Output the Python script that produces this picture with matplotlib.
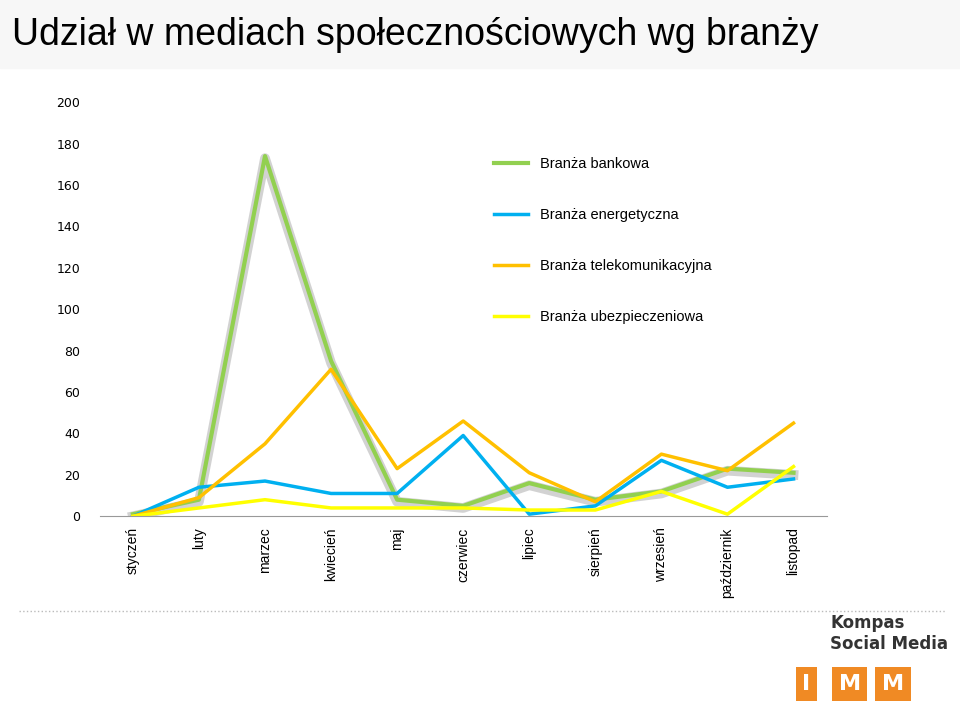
import matplotlib
matplotlib.use("Agg")
import matplotlib.pyplot as plt
import matplotlib.patheffects as pe

months = ["styczeń","luty","marzec","kwiecień","maj","czerwiec","lipiec","sierpień","wrzesień","październik","listopad"]
bankowa = [1, 8, 174, 75, 8, 5, 16, 8, 12, 23, 21]
energetyczna = [0, 14, 17, 11, 11, 39, 1, 5, 27, 14, 18]
telekom = [0, 9, 35, 71, 23, 46, 21, 7, 30, 22, 45]
ubezp = [0, 4, 8, 4, 4, 4, 3, 3, 12, 1, 24]
yticks = [0, 20, 40, 60, 80, 100, 120, 140, 160, 180, 200]

fig = plt.figure(figsize=(9.6, 7.2), dpi=100)
fig.patches.append(plt.Rectangle((0, 0.905), 1, 0.095, transform=fig.transFigure, color="#f7f7f7", zorder=0))
fig.text(0.012, 0.952, "Udział w mediach społecznościowych wg branży", fontsize=27, va="center", family="Liberation Sans")

ax = fig.add_axes([0.104, 0.283, 0.757, 0.575])
x = range(len(months))
ax.plot(x, bankowa, color="#92d050", lw=3, label="Branża bankowa",
        path_effects=[pe.SimpleLineShadow(offset=(0, -1.5), shadow_color="gray", alpha=0.35, linewidth=7), pe.Normal()])
ax.plot(x, energetyczna, color="#00b0f0", lw=2.5, label="Branża energetyczna")
ax.plot(x, telekom, color="#ffc000", lw=2.5, label="Branża telekomunikacyjna")
ax.plot(x, ubezp, color="#ffff00", lw=2.5, label="Branża ubezpieczeniowa")

ax.set_xlim(-0.5, 10.5)
ax.set_ylim(0, 200)
ax.set_yticks(yticks)
ax.set_xticks(list(x))
ax.set_xticklabels(months, rotation=90, fontsize=10, family="Liberation Sans")
ax.tick_params(axis="y", length=0, labelsize=9, pad=14)
ax.tick_params(axis="x", length=0, pad=8)
for s in ["top", "right", "left"]:
    ax.spines[s].set_visible(False)
ax.spines["bottom"].set_color("#999999")
leg = ax.legend(loc="upper left", bbox_to_anchor=(0.525, 0.9), frameon=False,
                handlelength=2.3, labelspacing=2.55, prop={"family": "Liberation Sans", "size": 10.5})
leg.legend_handles[0].set_path_effects([])

fig.add_artist(plt.Line2D([0.02, 0.985], [0.152, 0.152], transform=fig.transFigure, color="#bbbbbb", lw=1, ls=":"))
fig.text(0.865, 0.12, "Kompas\nSocial Media", fontsize=12, fontweight="bold", color="#333333", va="center")
for i, ch in enumerate("IMM"):
    fig.text(0.84 + i * 0.045, 0.05, ch, fontsize=16, fontweight="bold", color="white", ha="center", va="center",
             bbox=dict(boxstyle="square,pad=0.3", fc="#f08a24", ec="none"))

fig.savefig("out.png", dpi=100)
